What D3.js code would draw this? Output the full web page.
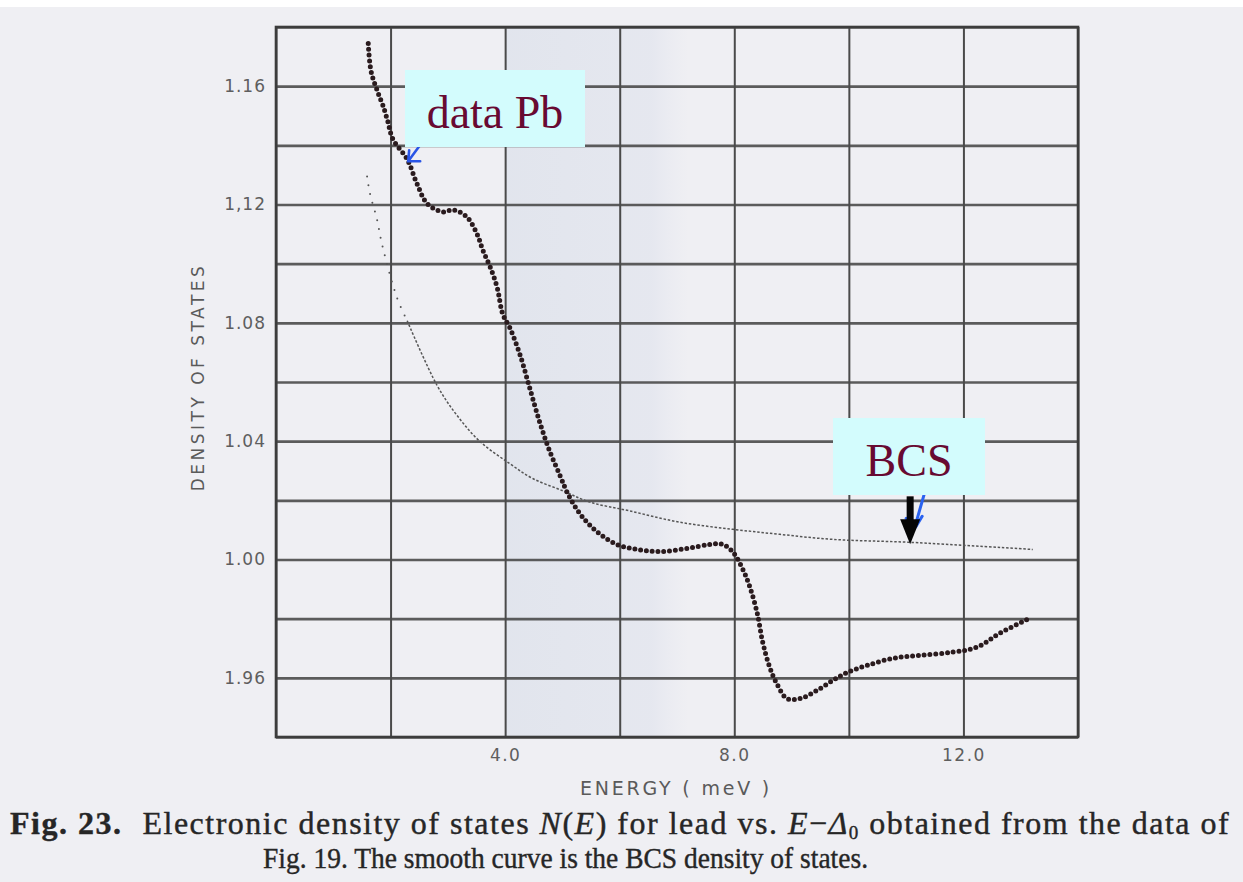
<!DOCTYPE html>
<html>
<head>
<meta charset="utf-8">
<script src="https://cdn.jsdelivr.net/npm/d3@7"></script>
<style>
  body { margin: 0; background: #efeff3; }
  svg { display: block; }
</style>
</head>
<body>
<svg id="chart"></svg>
<script>
// values (Pb tunneling data and the BCS curve)
var pbEnergy = [1.61, 1.66, 1.78, 1.87, 1.95, 2.04, 2.29, 2.46, 2.64, 2.91, 3.09, 3.33, 3.51, 3.61, 3.74, 3.86,
                3.96, 4.08, 4.26, 4.43, 4.61, 4.78, 4.96, 5.08, 5.25, 5.43, 5.66, 5.95, 6.30, 6.70, 7.17, 7.58,
                7.80, 7.98, 8.15, 8.27, 8.40, 8.50, 8.62, 8.74, 8.92, 9.15, 9.44, 9.72, 9.97, 10.32, 10.77,
                11.24, 11.82, 12.24, 12.64, 13.16];
var pbDos = [1.1744, 1.1650, 1.1578, 1.1533, 1.1482, 1.1421, 1.1353, 1.1271, 1.1203, 1.1175, 1.1182, 1.1158,
             1.1100, 1.1046, 1.0988, 1.0920, 1.0828, 1.0784, 1.0692, 1.0579, 1.0460, 1.0365, 1.0283, 1.0228,
             1.0170, 1.0126, 1.0085, 1.0051, 1.0034, 1.0027, 1.0037, 1.0051, 1.0051, 1.0024, 0.9966, 0.9908,
             0.9819, 0.9717, 0.9635, 0.9581, 0.9530, 0.9530, 0.9557, 0.9591, 0.9618, 0.9642, 0.9666, 0.9676,
             0.9687, 0.9704, 0.9751, 0.9802];

var bcsEnergy = [1.59, 1.64, 1.76, 1.85, 2.11, 2.29, 2.81, 3.16, 3.56, 4.08, 4.49, 5.01, 5.48, 6.18, 7.05,
                 7.98, 8.80, 9.72, 11.07, 13.21];
var bcsDos = [1.1295, 1.1237, 1.1152, 1.1066, 1.0886, 1.0807, 1.0589, 1.0487, 1.0399, 1.0324, 1.0273, 1.0232,
              1.0194, 1.0164, 1.0126, 1.0102, 1.0085, 1.0068, 1.0058, 1.0034];

var xTicks = [4, 8, 12];
var xTickLabels = ["4.0", "8.0", "12.0"];
var yTicks = [0.96, 1.00, 1.04, 1.08, 1.12, 1.16];
var yTickLabels = ["1.96", "1.00", "1.04", "1.08", "1,12", "1.16"];

var svgWidth = 1243, svgHeight = 882;
var plotLeft = 276, plotRight = 1078, plotTop = 27, plotBottom = 737;

var svg = d3.select('#chart')
    .attr('width', svgWidth)
    .attr('height', svgHeight);

// paper
svg.append('rect').attr('width', svgWidth).attr('height', svgHeight).attr('fill', '#efeff3');
svg.append('rect').attr('width', svgWidth).attr('height', 7).attr('fill', '#ffffff');

var x = d3.scaleLinear().domain([0, 14]).range([plotLeft, plotRight]);
var y = d3.scaleLinear().domain([0.94, 1.18]).range([plotBottom, plotTop]);

// faint scanner band
var defs = svg.append('defs');
var grad = defs.append('linearGradient').attr('id', 'band');
grad.append('stop').attr('offset', '0%').attr('stop-color', '#dfe3ec').attr('stop-opacity', 0.85);
grad.append('stop').attr('offset', '80%').attr('stop-color', '#e2e5ee').attr('stop-opacity', 0.75);
grad.append('stop').attr('offset', '100%').attr('stop-color', '#e6e8f0').attr('stop-opacity', 0);
svg.append('rect')
    .attr('x', x(4)).attr('y', plotTop)
    .attr('width', x(7.2) - x(4)).attr('height', plotBottom - plotTop)
    .attr('fill', 'url(#band)');

// grid from the axes
var gridX = svg.append('g')
    .attr('transform', 'translate(0,' + plotBottom + ')')
    .call(d3.axisBottom(x).ticks(7).tickSize(-(plotBottom - plotTop)).tickFormat(''));
gridX.selectAll('line').attr('stroke', '#4a4a4a').attr('stroke-width', 2);
gridX.select('.domain').remove();

var gridY = svg.append('g')
    .attr('transform', 'translate(' + plotLeft + ',0)')
    .call(d3.axisLeft(y).ticks(12).tickSize(-(plotRight - plotLeft)).tickFormat(''));
gridY.selectAll('line').attr('stroke', '#4a4a4a').attr('stroke-width', 2.6).attr('stroke-opacity', 0.9);
gridY.select('.domain').remove();

svg.append('rect')
    .attr('x', plotLeft).attr('y', plotTop)
    .attr('width', plotRight - plotLeft).attr('height', plotBottom - plotTop)
    .attr('fill', 'none').attr('stroke', '#3c3c3c').attr('stroke-width', 2.6);

// tick labels
var xAxis = svg.append('g')
    .attr('transform', 'translate(0,' + plotBottom + ')')
    .call(d3.axisBottom(x).tickValues(xTicks).tickSize(0).tickPadding(12)
        .tickFormat(function (d, i) { return xTickLabels[i]; }));
xAxis.select('.domain').remove();
xAxis.selectAll('text')
    .attr('font-family', 'DejaVu Sans').attr('font-size', 17)
    .attr('letter-spacing', 1.5).attr('fill', '#5e5e5e');

var yAxis = svg.append('g')
    .attr('transform', 'translate(' + plotLeft + ',0)')
    .call(d3.axisLeft(y).tickValues(yTicks).tickSize(0).tickPadding(10)
        .tickFormat(function (d, i) { return yTickLabels[i]; }));
yAxis.select('.domain').remove();
yAxis.selectAll('text')
    .attr('font-family', 'DejaVu Sans').attr('font-size', 17)
    .attr('letter-spacing', 1).attr('fill', '#5e5e5e');

// axis titles
svg.append('text')
    .attr('transform', 'translate(204,377) rotate(-90)')
    .attr('text-anchor', 'middle')
    .attr('font-family', 'DejaVu Sans').attr('font-size', 17)
    .attr('letter-spacing', 3.5).attr('fill', '#5a5a5a')
    .text('DENSITY OF STATES');

svg.append('text')
    .attr('x', 676).attr('y', 795)
    .attr('text-anchor', 'middle')
    .attr('font-family', 'DejaVu Sans').attr('font-size', 19)
    .attr('letter-spacing', 2.8).attr('fill', '#5a5a5a')
    .text('ENERGY ( meV )');

// BCS curve: sparse dots at the top, a thin dotted line below
var bcsLine = d3.line()
    .x(function (d) { return x(bcsEnergy[d]); })
    .y(function (d) { return y(bcsDos[d]); })
    .curve(d3.curveCatmullRom);
var idx = d3.range(bcsEnergy.length);
svg.append('path')
    .attr('d', bcsLine(idx.filter(function (i) { return bcsEnergy[i] <= 2.3; })))
    .attr('fill', 'none').attr('stroke', '#555').attr('stroke-width', 2)
    .attr('stroke-linecap', 'round').attr('stroke-dasharray', '0 9');
svg.append('path')
    .attr('d', bcsLine(idx.filter(function (i) { return bcsEnergy[i] >= 2.29; })))
    .attr('fill', 'none').attr('stroke', '#555').attr('stroke-width', 1.5)
    .attr('stroke-dasharray', '2.5 1.8');

// Pb data as a chain of dots
var pbLine = d3.line()
    .x(function (d) { return x(pbEnergy[d]); })
    .y(function (d) { return y(pbDos[d]); })
    .curve(d3.curveCatmullRom);
svg.append('path')
    .attr('d', pbLine(d3.range(pbEnergy.length)))
    .attr('fill', 'none').attr('stroke', '#2a1b1e').attr('stroke-width', 5)
    .attr('stroke-linecap', 'round').attr('stroke-dasharray', '0 5.8');

// annotation: data Pb
var px = x(pbEnergy[6]), py = y(pbDos[6]);
svg.append('path')
    .attr('d', 'M' + (px + 15) + ',' + (py - 17) + 'L' + (px + 1) + ',' + (py + 2) +
        'M' + (px + 2) + ',' + (py - 9) + 'L' + (px + 1) + ',' + (py + 2) + 'L' + (px + 13) + ',' + (py + 2))
    .attr('fill', 'none').attr('stroke', '#2a55e6').attr('stroke-width', 2.6)
    .attr('stroke-linecap', 'round');

svg.append('rect')
    .attr('x', 405).attr('y', 70).attr('width', 180).attr('height', 77)
    .attr('fill', '#d3fcfd');
svg.append('text')
    .attr('x', 495).attr('y', 128).attr('text-anchor', 'middle')
    .attr('font-family', 'Liberation Serif').attr('font-size', 46)
    .attr('fill', '#680a32')
    .text('data Pb');

// annotation: BCS
var bx = x(11.07), byy = y(1.0058);
svg.append('path')
    .attr('d', 'M' + (bx + 14) + ',' + (byy - 48) + 'L' + (bx + 6) + ',' + (byy - 20) +
        'M' + (bx - 4) + ',' + (byy - 24) + 'L' + (bx + 6) + ',' + (byy - 16) + 'L' + (bx + 12) + ',' + (byy - 26))
    .attr('fill', 'none').attr('stroke', '#2a62f0').attr('stroke-width', 3)
    .attr('stroke-linecap', 'round');
svg.append('rect')
    .attr('x', bx - 3.5).attr('y', byy - 46).attr('width', 7).attr('height', 25)
    .attr('fill', '#050505');
svg.append('path')
    .attr('d', 'M' + (bx - 10) + ',' + (byy - 23) + 'L' + (bx + 10) + ',' + (byy - 23) + 'L' + bx + ',' + (byy + 2) + 'Z')
    .attr('fill', '#050505');

svg.append('rect')
    .attr('x', 833).attr('y', 418).attr('width', 152).attr('height', 77)
    .attr('fill', '#d3fcfd');
svg.append('text')
    .attr('x', 909).attr('y', 476).attr('text-anchor', 'middle')
    .attr('font-family', 'Liberation Serif').attr('font-size', 46)
    .attr('fill', '#680a32')
    .text('BCS');

// caption
var cap = svg.append('g')
    .attr('font-family', 'Liberation Serif').attr('font-size', 30)
    .attr('fill', '#262626').attr('stroke', '#262626').attr('stroke-width', 0.4);

var line1 = cap.append('text').attr('x', 10).attr('y', 834)
    .attr('font-size', 32).attr('letter-spacing', 1.5);
line1.append('tspan').attr('font-weight', 'bold').text('Fig. 23.');
line1.append('tspan').attr('dx', 20).text('Electronic density of states ');
line1.append('tspan').attr('font-style', 'italic').text('N');
line1.append('tspan').text('(');
line1.append('tspan').attr('font-style', 'italic').text('E');
line1.append('tspan').text(') for lead vs. ');
line1.append('tspan').attr('font-style', 'italic').text('E');
line1.append('tspan').text('\u2212');
line1.append('tspan').attr('font-style', 'italic').text('\u0394');
line1.append('tspan').attr('font-size', 19).attr('dy', 5).text('0');
line1.append('tspan').attr('dy', -5).text(' obtained from the data of');

cap.append('text')
    .attr('x', 263).attr('y', 868)
    .attr('textLength', 605).attr('lengthAdjust', 'spacingAndGlyphs')
    .text('Fig. 19. The smooth curve is the BCS density of states.');
</script>
</body>
</html>
